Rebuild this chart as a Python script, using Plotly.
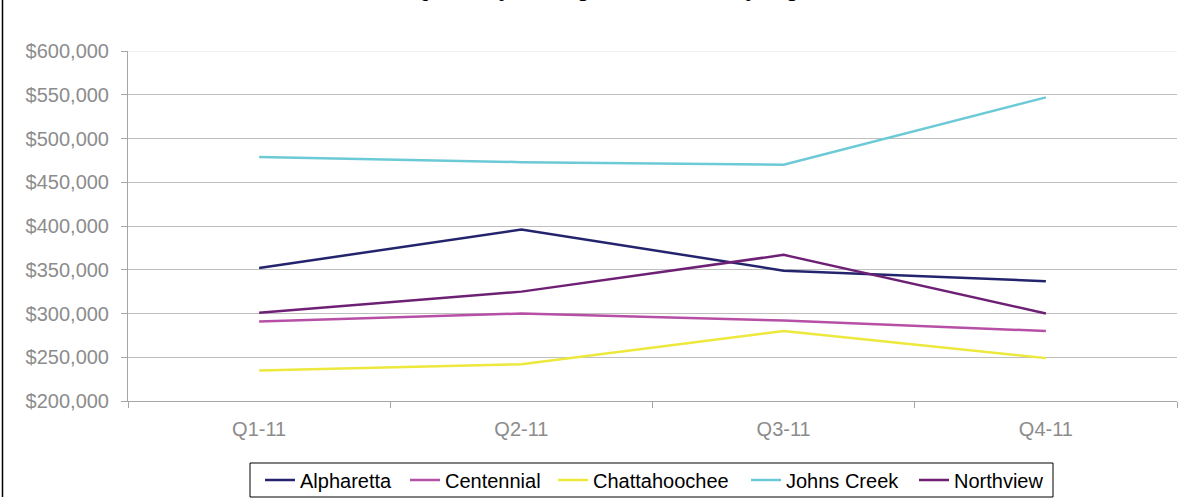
import plotly.graph_objects as go

quarters = ["Q1-11", "Q2-11", "Q3-11", "Q4-11"]
alpharetta = [352000, 396000, 349000, 337000]
centennial = [291000, 300000, 292000, 280000]
chattahoochee = [235000, 242000, 280000, 249000]
johns_creek = [479000, 473000, 470000, 547000]
northview = [301000, 325000, 367000, 300000]

series = [
    ("Alpharetta", alpharetta, "#24246e"),
    ("Centennial", centennial, "#b64fa6"),
    ("Chattahoochee", chattahoochee, "#ece93c"),
    ("Johns Creek", johns_creek, "#6ccad6"),
    ("Northview", northview, "#6e2075"),
]

W, H = 1182, 499
L, R, T, B = 128, 5, 51, 98
pw, ph = W - L - R, H - T - B

def px_x(p):
    return (p - L) / pw

def px_y(p):
    return 1 - (p - T) / ph

font = "Liberation Sans, Arial, sans-serif"

# legend item positions (text start, pixels)
legend_text_x = [300, 445, 593, 786, 954]

fig = go.Figure()
legend_layouts = {}
for i, (name, vals, col) in enumerate(series):
    key = "legend" if i == 0 else f"legend{i + 1}"
    fig.add_trace(go.Scatter(x=quarters, y=vals, mode="lines", name=name,
                             line=dict(color=col, width=2.5),
                             legend=key, showlegend=True))
    legend_layouts[key] = dict(
        orientation="h", xref="paper", x=px_x(legend_text_x[i] - 40),
        xanchor="left", yref="container", y=1 - 480 / H, yanchor="middle",
        borderwidth=0, bgcolor="rgba(0,0,0,0)", itemwidth=30,
        font=dict(family=font, size=20, color="#000000"))

fig.update_layout(
    width=W, height=H,
    margin=dict(l=L, r=R, t=T, b=B, pad=0, autoexpand=False),
    paper_bgcolor="white", plot_bgcolor="white",
    font=dict(family=font, size=20, color="#8c8c8c"),
    showlegend=True,
    xaxis=dict(type="category", range=[-0.5, 3.5], showgrid=False,
               showline=True, linecolor="#a6a6a6", linewidth=1,
               ticks="outside", ticklen=6, tickcolor="#a6a6a6",
               tickson="boundaries", ticklabelstandoff=10,
               tickfont=dict(size=20, color="#8c8c8c")),
    yaxis=dict(range=[200000, 600000], dtick=50000, tick0=200000,
               tickprefix="$", tickformat=",d",
               showgrid=True, gridcolor="#bfbfbf", gridwidth=1,
               showline=True, linecolor="#a6a6a6", linewidth=1,
               ticks="outside", ticklen=6, tickcolor="#a6a6a6",
               ticklabelstandoff=8, zeroline=False,
               tickfont=dict(size=20, color="#8c8c8c")),
    annotations=[dict(text="<b>Quarterly Average Sales Price by High School</b>",
                      xref="paper", yref="paper", x=0.5, xanchor="center",
                      y=1 + (T - 3) / ph, yanchor="bottom", showarrow=False,
                      font=dict(family=font, size=22, color="#000000"))],
    shapes=[
        dict(type="line", xref="paper", yref="paper",
             x0=px_x(2.5), x1=px_x(2.5), y0=px_y(497), y1=px_y(0),
             line=dict(color="#000000", width=1.5)),
        dict(type="rect", xref="paper", yref="paper",
             x0=px_x(250), x1=px_x(1053), y0=px_y(497), y1=px_y(463),
             line=dict(color="#000000", width=1), fillcolor="rgba(0,0,0,0)"),
        dict(type="line", xref="paper", yref="y", layer="below",
             x0=0, x1=1, y0=600000, y1=600000,
             line=dict(color="#ececec", width=1.5)),
    ],
    **legend_layouts,
)

fig.write_html("out.html")
